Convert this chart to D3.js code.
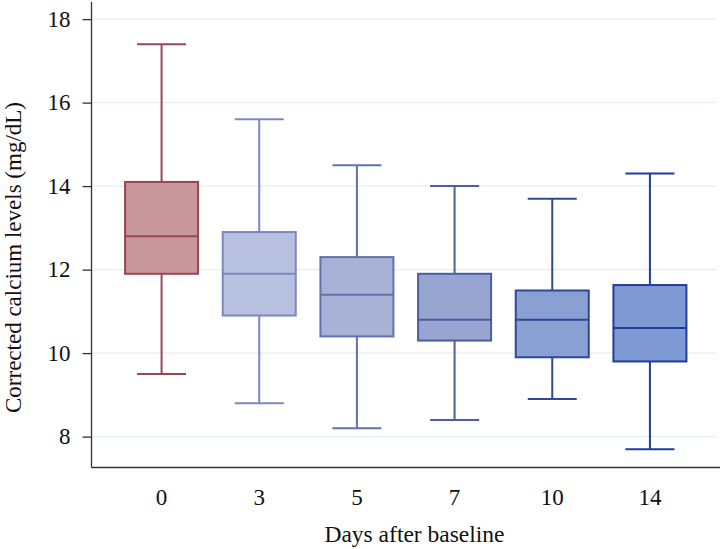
<!DOCTYPE html>
<html>
<head>
<meta charset="utf-8">
<script src="https://cdn.jsdelivr.net/npm/d3@7/dist/d3.min.js"></script>
<style>
  html, body { margin: 0; padding: 0; background: #ffffff; }
  svg { display: block; }
  text { font-family: "Liberation Serif", "DejaVu Serif", serif; fill: #111; }
</style>
</head>
<body>
<svg id="chart" width="720" height="549"></svg>
<script>
// Data
const categories = ["0", "3", "5", "7", "10", "14"];
const whiskerLow  = [9.5, 8.8, 8.2, 8.4, 8.9, 7.7];
const q1          = [11.9, 10.9, 10.4, 10.3, 9.9, 9.8];
const medians     = [12.8, 11.9, 11.4, 10.8, 10.8, 10.6];
const q3          = [14.1, 12.9, 12.3, 11.9, 11.5, 11.63];
const whiskerHigh = [17.4, 15.6, 14.5, 14.0, 13.7, 14.3];
const yTicks = [8, 10, 12, 14, 16, 18];
const fills   = ["#c8979c", "#b8c0e0", "#a9b1d6", "#98a5d1", "#8a9fd2", "#7f99d3"];
const strokes = ["#9a4551", "#7b87c1", "#6371ae", "#4a5ea1", "#2d4999", "#1f3d9c"];
const xTitle = "Days after baseline";
const yTitle = "Corrected calcium levels (mg/dL)";

(function () {
const svg = d3.select("#chart");
const mLeft = 91.5, mRight = 720, mTop = 2, mBottom = 467.5;
const FONT = '"Liberation Serif", "Times New Roman", serif';

const y = d3.scaleLinear().domain([7.26, 18.41]).range([mBottom, mTop]);
const x = d3.scaleBand().domain(categories).range([mLeft, mRight]).paddingInner(0.255).paddingOuter(0.345);

const boxW = 73, capW = 49;

// gridlines
svg.append("g").selectAll("line").data(yTicks).join("line")
  .attr("x1", mLeft).attr("x2", 716)
  .attr("y1", d => y(d)).attr("y2", d => y(d))
  .attr("stroke", "#e6edf1").attr("stroke-width", 1.3);

// y axis
const yAxis = svg.append("g").attr("transform", `translate(${mLeft},0)`)
  .call(d3.axisLeft(y).tickValues(yTicks).tickSize(9).tickPadding(12).tickFormat(d3.format("d")))
  .attr("font-family", FONT).attr("font-size", 23);
yAxis.select(".domain").attr("stroke", "#333").attr("stroke-width", 1.3).attr("d", `M0,${mTop}V${mBottom}`);
yAxis.selectAll(".tick line").attr("stroke", "#333").attr("stroke-width", 1.3);
yAxis.selectAll(".tick text").style("font-family", FONT).style("font-size", "23px").attr("fill", "#111");

// x axis
const xAxis = svg.append("g").attr("transform", `translate(0,${mBottom})`)
  .call(d3.axisBottom(x).tickSize(0).tickPadding(21))
  .attr("font-family", FONT).attr("font-size", 23);
xAxis.select(".domain").attr("stroke", "#333").attr("stroke-width", 1.3).attr("d", `M${mLeft},0H${mRight}`);
xAxis.selectAll(".tick text").style("font-family", FONT).style("font-size", "23px").attr("fill", "#111");

// boxes
const data = categories.map((c, i) => ({c, i, lo: whiskerLow[i], q1: q1[i], med: medians[i], q3: q3[i], hi: whiskerHigh[i]}));
const g = svg.append("g").selectAll("g").data(data).join("g")
  .attr("transform", d => `translate(${x(d.c) + x.bandwidth() / 2},0)`);

g.append("line").attr("x1", 0).attr("x2", 0).attr("y1", d => y(d.hi)).attr("y2", d => y(d.q3))
  .attr("stroke", d => strokes[d.i]).attr("stroke-width", 2);
g.append("line").attr("x1", 0).attr("x2", 0).attr("y1", d => y(d.q1)).attr("y2", d => y(d.lo))
  .attr("stroke", d => strokes[d.i]).attr("stroke-width", 2);
g.append("line").attr("x1", -capW / 2).attr("x2", capW / 2).attr("y1", d => y(d.hi)).attr("y2", d => y(d.hi))
  .attr("stroke", d => strokes[d.i]).attr("stroke-width", 2);
g.append("line").attr("x1", -capW / 2).attr("x2", capW / 2).attr("y1", d => y(d.lo)).attr("y2", d => y(d.lo))
  .attr("stroke", d => strokes[d.i]).attr("stroke-width", 2);
g.append("rect").attr("x", -boxW / 2).attr("width", boxW)
  .attr("y", d => y(d.q3)).attr("height", d => y(d.q1) - y(d.q3))
  .attr("fill", d => fills[d.i]).attr("stroke", d => strokes[d.i]).attr("stroke-width", 2);
g.append("line").attr("x1", -boxW / 2).attr("x2", boxW / 2).attr("y1", d => y(d.med)).attr("y2", d => y(d.med))
  .attr("stroke", d => strokes[d.i]).attr("stroke-width", 2);

// titles
svg.append("text").attr("x", 414.5).attr("y", 542).attr("text-anchor", "middle")
  .style("font-family", FONT).style("font-size", "23.5px").text(xTitle);
svg.append("text").attr("transform", `translate(21,257.5) rotate(-90)`)
  .attr("text-anchor", "middle").style("font-family", FONT).style("font-size", "23px").text(yTitle);
})();
</script>
</body>
</html>
